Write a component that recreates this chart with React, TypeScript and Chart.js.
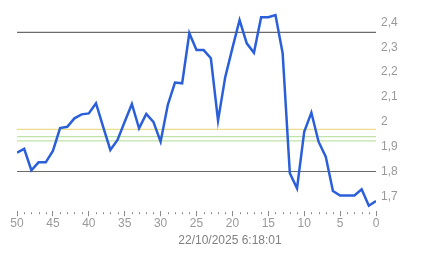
import React, { useEffect, useRef } from "react";
import { Chart, registerables } from "chart.js";

Chart.register(...registerables);

// x: index counting down from 50 to 0
const xPositions = [50, 49, 48, 47, 46, 45, 44, 43, 42, 41, 40, 39, 38, 37, 36, 35, 34, 33, 32, 31, 30, 29, 28, 27, 26, 25, 24, 23, 22, 21, 20, 19, 18, 17, 16, 15, 14, 13, 12, 11, 10, 9, 8, 7, 6, 5, 4, 3, 2, 1, 0];
const values = [
  1.876, 1.891, 1.805, 1.837, 1.837, 1.883, 1.975, 1.98, 2.014, 2.03,
  2.034, 2.075, 1.98, 1.887, 1.927, 2.0, 2.072, 1.974, 2.032, 2.0,
  1.92, 2.068, 2.158, 2.155, 2.357, 2.289, 2.289, 2.256, 2.005, 2.18,
  2.297, 2.41, 2.316, 2.278, 2.421, 2.421, 2.43, 2.276, 1.793, 1.732,
  1.96, 2.037, 1.92, 1.86, 1.721, 1.703, 1.703, 1.703, 1.728, 1.662, 1.681,
];
const refLevels = [2.36, 1.8, 1.97, 1.94, 1.923];
const refColors = ["#6a6a6a", "#6a6a6a", "#ecdc8c", "#bfe3a6", "#bfe3a6"];
const yTickValues = [1.7, 1.8, 1.9, 2.0, 2.1, 2.2, 2.3, 2.4];
const titleText = "22/10/2025 6:18:01";

const minorTicks = {
  id: "minorTicks",
  afterDraw(chart: any) {
    const sx = chart.scales.x;
    const ctx = chart.ctx;
    const bottom = chart.chartArea.bottom;
    ctx.save();
    ctx.strokeStyle = "#8a8a8a";
    ctx.lineWidth = 1;
    sx.ticks.forEach((t: any) => {
      if (t.value % 5 === 0) return;
      const px = Math.round(sx.getPixelForValue(t.value)) + 0.5;
      ctx.beginPath();
      ctx.moveTo(px, bottom + 1);
      ctx.lineTo(px, bottom + 3);
      ctx.stroke();
    });
    ctx.restore();
  },
};

export default function App() {
  const ref = useRef<HTMLCanvasElement | null>(null);
  useEffect(() => {
    if (!ref.current) return;
    const refSets = refLevels.map((lv, i) => ({
      data: [
        { x: 50, y: lv },
        { x: 0, y: lv },
      ],
      borderColor: refColors[i],
      borderWidth: 1.2,
      pointRadius: 0,
      fill: false,
      order: 2,
    }));
    const chart = new Chart(ref.current, {
      type: "line",
      data: {
        datasets: [
          {
            data: xPositions.map((x, i) => ({ x, y: values[i] })),
            borderColor: "#2b5fd9",
            borderWidth: 2.5,
            pointRadius: 0,
            tension: 0,
            fill: false,
            order: 1,
          },
          ...refSets,
        ] as any,
      },
      plugins: [minorTicks],
      options: {
        animation: false,
        responsive: false,
        maintainAspectRatio: false,
        layout: { padding: { left: 17, right: 0, top: 0, bottom: 10 } },
        plugins: {
          legend: { display: false },
          tooltip: { enabled: false },
          title: {
            display: true,
            position: "bottom",
            text: titleText,
            color: "#808080",
            font: { family: "Liberation Sans, Arial", size: 12, weight: "normal" },
            padding: { top: 3, bottom: 0 },
          },
        },
        scales: {
          x: {
            type: "linear",
            reverse: true,
            min: 0,
            max: 50,
            grid: {
              drawOnChartArea: false,
              drawTicks: true,
              tickLength: 5,
              color: (ctx: any) => (ctx.tick && ctx.tick.value % 5 === 0 ? "#8a8a8a" : "rgba(0,0,0,0)"),
            },
            border: { display: false },
            ticks: {
              stepSize: 1,
              autoSkip: false,
              maxRotation: 0,
              color: "#999",
              padding: 0,
              font: { family: "Liberation Sans, Arial", size: 12 },
              callback: (v: any) => (Number(v) % 5 === 0 ? String(v) : ""),
            },
          },
          y: {
            position: "right",
            min: 1.64,
            max: 2.4416,
            afterBuildTicks: (scale: any) => {
              scale.ticks = yTickValues.map((v) => ({ value: v }));
            },
            grid: { display: false, drawTicks: false },
            border: { display: false },
            ticks: {
              color: "#999",
              padding: 5,
              font: { family: "Liberation Sans, Arial", size: 12 },
              callback: (v: any) => {
                const n = Math.round(Number(v) * 10) / 10;
                return String(n).replace(".", ",");
              },
            },
            afterFit: (scale: any) => {
              scale.width = 67;
            },
          },
        },
      },
    });
    return () => chart.destroy();
  }, []);
  return (
    <div style={{ position: "fixed", left: 0, top: 0, width: 443, height: 258, background: "#fff" }}>
      <canvas ref={ref} width={443} height={258} style={{ width: 443, height: 258 }} />
    </div>
  );
}
